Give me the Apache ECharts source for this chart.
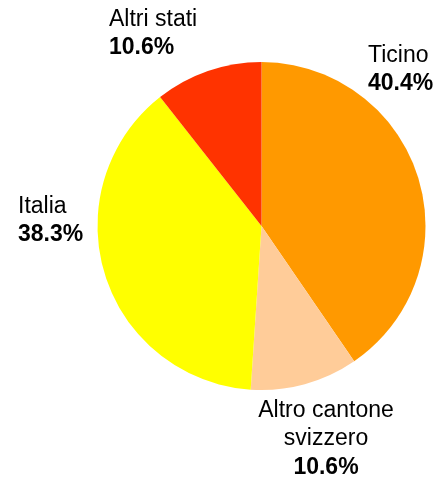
<!DOCTYPE html>
<html>
<head>
<meta charset="utf-8">
<script src="https://cdn.jsdelivr.net/npm/echarts@6/dist/echarts.min.js"></script>
<style>
html,body{margin:0;padding:0;background:#fff;}
#chart{width:439px;height:479px;}
</style>
</head>
<body>
<div id="chart"></div>
<script>
var categories = ['Ticino', 'Altro cantone\nsvizzero', 'Italia', 'Altri stati'];
var values = [40.4, 10.6, 38.3, 10.6];
var colors = ['#FF9900', '#FFCC99', '#FFFF00', '#FF3300'];

// label placement (top-left / top-center of each label block)
var labelPos = [
  {x: 368, y: 41, align: 'left'},
  {x: 326, y: 396, align: 'center'},
  {x: 18, y: 192, align: 'left'},
  {x: 109, y: 5, align: 'left'}
];

var chart = echarts.init(document.getElementById('chart'), null, {renderer: 'canvas'});
chart.setOption({
  animation: false,
  series: [{
    type: 'pie',
    center: [261.5, 226],
    radius: 164,
    startAngle: 90,
    clockwise: true,
    avoidLabelOverlap: false,
    silent: true,
    itemStyle: {borderWidth: 0},
    emphasis: {disabled: true},
    labelLine: {show: false},
    label: {
      show: true,
      position: 'outside',
      formatter: function (p) {
        return '{n|' + p.name.split('\n').join('}\n{n|') + '}\n{p|' + p.value.toFixed(1) + '%}';
      },
      rich: {
        n: {fontFamily: 'Liberation Sans, Arial, sans-serif', fontSize: 23, lineHeight: 28.5, color: '#000'},
        p: {fontFamily: 'Liberation Sans, Arial, sans-serif', fontSize: 23, lineHeight: 28.5, fontWeight: 'bold', color: '#000'}
      }
    },
    labelLayout: function (params) {
      var lp = labelPos[params.dataIndex];
      return {x: lp.x, y: lp.y, align: lp.align, verticalAlign: 'top'};
    },
    data: categories.map(function (c, i) {
      return {name: c, value: values[i], itemStyle: {color: colors[i]},
        label: {align: labelPos[i].align}};
    })
  }]
});
</script>
</body>
</html>
